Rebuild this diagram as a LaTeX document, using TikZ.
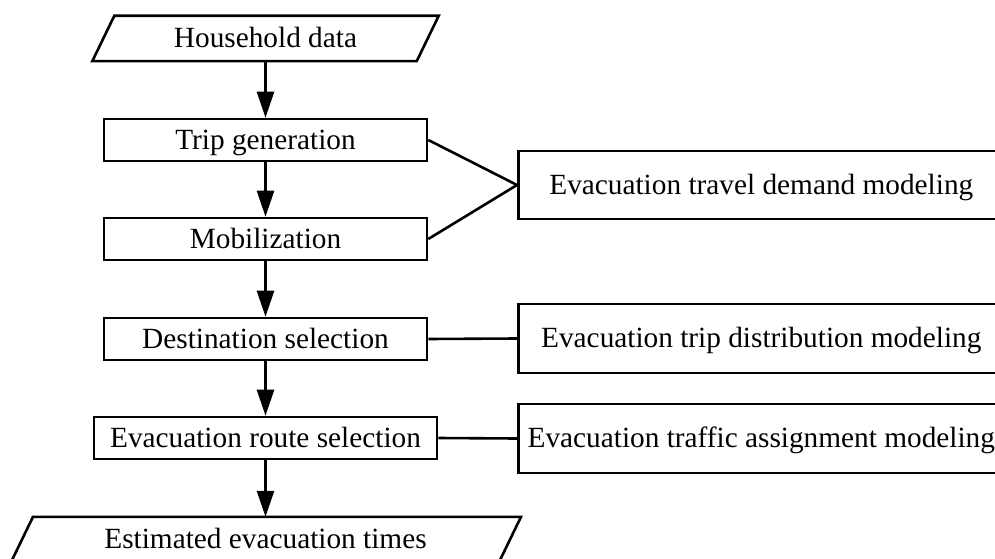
\documentclass[tikz,border=0pt]{standalone}
\usepackage{fontspec}
\setmainfont{Liberation Serif}
\usetikzlibrary{arrows.meta,calc}

\tikzset{
  txt/.style={font=\fontsize{29.3}{34}\selectfont, text height=22pt, text depth=4pt, inner sep=0pt},
  proc/.style={txt, draw, line width=2.6pt, minimum height=42pt},
  iobox/.style={txt, minimum height=45pt},
  model/.style={txt, draw, line width=2.6pt, anchor=west},
  flow/.style={line width=2.6pt, -{Triangle[length=26pt,width=17pt]}},
  link/.style={line width=2.6pt},
  slanted/.style={line width=2.6pt, line join=miter},
}
% text of a model box, centred 243pt right of the box's left side
\newcommand{\modeltext}[1]{\makebox[500pt][l]{\makebox[486pt]{#1}}}

\begin{document}
\begin{tikzpicture}[x=1pt,y=-1pt]
  \useasboundingbox (0,0) rectangle (995,559);
  \clip (0,0) rectangle (995,559);

  % main chain
  \node[iobox, minimum width=324pt] (hh) at (265.5,38.5) {Household data};
  \draw[slanted] ($(hh.north west)+(11,0)$) -- ($(hh.north east)+(11,0)$)
     -- ($(hh.south east)+(-11,0)$) -- ($(hh.south west)+(-11,0)$) -- cycle;

  \node[proc, minimum width=323pt] (tg)  at (265.5,140) {Trip generation};
  \node[proc, minimum width=323pt] (mob) at (265.5,239) {Mobilization};
  \node[proc, minimum width=323pt] (dst) at (265.5,339) {Destination selection};
  \node[proc, minimum width=343pt] (rte) at (265.5,438) {Evacuation route selection};

  \node[iobox, minimum width=400pt] (est) at (265.5,539.5) {Estimated evacuation times};
  \draw[slanted] ($(est.north)+(-232.5,0)$) -- ($(est.north)+(255.5,0)$)
     -- ($(est.south)+(233.5,0)$) -- ($(est.south)+(-254.5,0)$) -- cycle;

  \draw[flow] (hh.south) -- (tg.north);
  \draw[flow] (tg.south) -- (mob.north);
  \draw[flow] (mob.south) -- (dst.north);
  \draw[flow] (dst.south) -- (rte.north);
  \draw[flow] (rte.south) -- (est.north);

  % modeling stages
  \node[model, minimum height=68pt] (tdm) at (517,185)
    {\modeltext{Evacuation travel demand modeling}};
  \node[model, minimum height=69pt] (tdi) at (517,338.5)
    {\modeltext{Evacuation trip distribution modeling}};
  \node[model, minimum height=69pt] (tas) at (517,438.5)
    {\modeltext{Evacuation traffic assignment modeling}};

  \draw[link] (tg.east) -- (tdm.west);
  \draw[link] (mob.east) -- (tdm.west);
  \draw[link] (dst.east) -- (tdi.west);
  \draw[link] (rte.east) -- (tas.west);
\end{tikzpicture}
\end{document}
